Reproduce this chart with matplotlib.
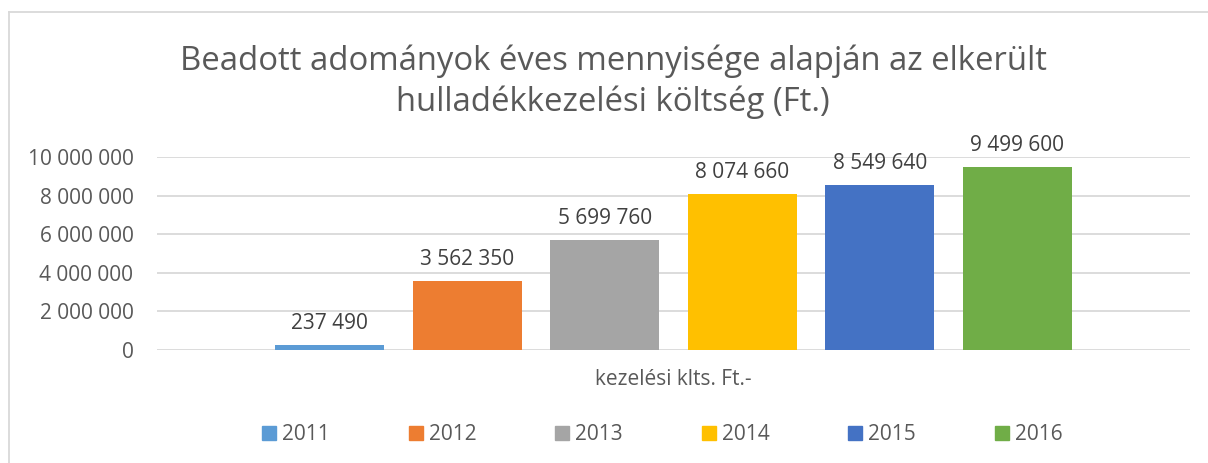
import matplotlib
matplotlib.use("Agg")
import matplotlib.pyplot as plt
from matplotlib.patches import Rectangle
from matplotlib.lines import Line2D

plt.rcParams['font.family'] = ['Open Sans', 'DejaVu Sans']

title_lines = ["Beadott adományok éves mennyisége alapján az elkerült",
               "hulladékkezelési költség (Ft.)"]
category = "kezelési klts. Ft.-"
years = ["2011", "2012", "2013", "2014", "2015", "2016"]
values = [237490, 3562350, 5699760, 8074660, 8549640, 9499600]
colors = ["#5B9BD5", "#ED7D31", "#A5A5A5", "#FFC000", "#4472C4", "#70AD47"]
yticks = [0, 2000000, 4000000, 6000000, 8000000, 10000000]

def fmt(v):
    return f"{v:,}".replace(",", " ")

W, H = 1208, 463
fig = plt.figure(figsize=(W / 100, H / 100), dpi=100)

def fx(px):
    return px / W

def fy(py):
    return 1 - py / H

# chart border (partially visible)
fig.add_artist(Line2D([fx(9), fx(9)], [0, fy(12)], color="#D9D9D9", lw=1.3, transform=fig.transFigure))
fig.add_artist(Line2D([fx(9), 1.0], [fy(12), fy(12)], color="#D9D9D9", lw=1.3, transform=fig.transFigure))

ax = fig.add_axes([fx(157), fy(350), (1190 - 157) / W, (350 - 157) / H])
ax.set_xlim(-0.5, 0.5)
ax.set_ylim(0, 10000000)

bw = 109 / 1033
step = 137.5 / 1033
for i, (y, v, c) in enumerate(zip(years, values, colors)):
    x = (i - 2.5) * step
    ax.bar(x, v, width=bw, color=c, zorder=3, label=y)
    ax.annotate(fmt(v), (x, v), xytext=(0, 11.5), textcoords="offset points",
                ha="center", va="baseline", fontsize=15, color="#404040")

ax.set_yticks(yticks)
ax.set_yticklabels([fmt(t) for t in yticks], fontsize=15, color="#595959")
ax.tick_params(axis="y", length=0, pad=17)
ax.set_xticks([0])
ax.set_xticklabels([category], fontsize=15, color="#595959")
ax.tick_params(axis="x", length=0, pad=14)
ax.grid(axis="y", color="#D9D9D9", lw=1.3, zorder=0)
for s in ax.spines.values():
    s.set_visible(False)

fig.text(fx(613), fy(70), title_lines[0], ha="center", va="baseline", fontsize=23.7, color="#595959")
fig.text(fx(613), fy(111), title_lines[1], ha="center", va="baseline", fontsize=23.7, color="#595959")

# legend
for i, (y, c) in enumerate(zip(years, colors)):
    sx = 262 + i * 146.6
    fig.add_artist(Rectangle((fx(sx), fy(440)), 14 / W, 14 / H, color=c, transform=fig.transFigure))
    fig.text(fx(sx + 20), fy(440), y, ha="left", va="baseline", fontsize=15, color="#595959")

fig.savefig("out.png", dpi=100)
